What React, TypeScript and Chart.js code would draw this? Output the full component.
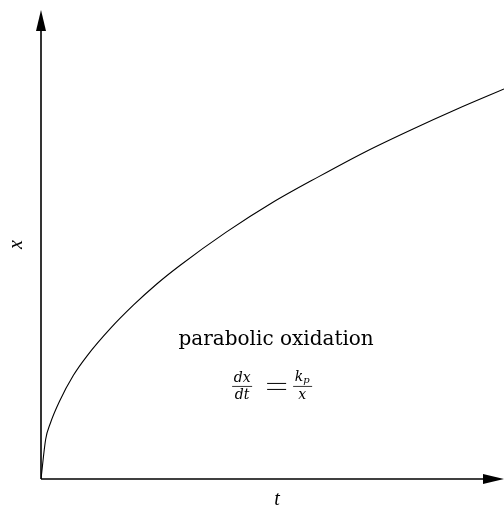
import React, { useEffect, useRef } from "react";
import { Chart, registerables } from "chart.js";

Chart.register(...registerables);

// Oxide thickness x against time t for parabolic growth
const timeValues = [0, 0.1, 0.2, 0.4, 0.7, 1, 1.5, 2, 2.5, 3, 4, 5, 6, 7, 8, 9, 10];
const thicknessValues = [0, 0.32, 0.45, 0.63, 0.84, 1, 1.22, 1.41, 1.58, 1.73, 2, 2.24, 2.45, 2.65, 2.83, 3, 3.16];

const xAxisTitle = "t";
const yAxisTitle = "x";
const regimeLabel = "parabolic oxidation";

const SERIF = '"Liberation Serif", "DejaVu Serif", serif';
const WIDE_SERIF = '"DejaVu Serif", "Liberation Serif", serif';

function drawArrow(ctx: CanvasRenderingContext2D, fx: number, fy: number, tx: number, ty: number) {
  const len = 21;
  const half = 5;
  const ang = Math.atan2(ty - fy, tx - fx);
  const bx = tx - len * Math.cos(ang);
  const by = ty - len * Math.sin(ang);
  ctx.beginPath();
  ctx.moveTo(fx, fy);
  ctx.lineTo(bx, by);
  ctx.stroke();
  ctx.beginPath();
  ctx.moveTo(tx, ty);
  ctx.lineTo(bx + half * Math.sin(ang), by - half * Math.cos(ang));
  ctx.lineTo(bx - half * Math.sin(ang), by + half * Math.cos(ang));
  ctx.closePath();
  ctx.fill();
}

const axesPlugin = {
  id: "arrowAxes",
  afterDraw(chart: any) {
    const ctx: CanvasRenderingContext2D = chart.ctx;
    const area = chart.chartArea;
    const xs = chart.scales.x;
    const ys = chart.scales.y;
    const x0 = xs.getPixelForValue(0);
    const y0 = ys.getPixelForValue(0);
    ctx.save();
    ctx.strokeStyle = "#000";
    ctx.fillStyle = "#000";
    ctx.lineWidth = 1.6;
    drawArrow(ctx, x0, y0, x0, area.top);
    drawArrow(ctx, x0, y0, area.right, y0);

    // axis titles
    ctx.font = `italic 20px ${SERIF}`;
    ctx.textAlign = "center";
    ctx.textBaseline = "middle";
    ctx.fillText(xAxisTitle, x0 + 236, y0 + 21);
    ctx.save();
    ctx.translate(x0 - 24, (area.top + y0) / 2);
    ctx.rotate(-Math.PI / 2);
    ctx.fillText(yAxisTitle, 0, 0);
    ctx.restore();

    // regime label
    const cx = xs.getPixelForValue(5.1);
    ctx.font = `20px ${WIDE_SERIF}`;
    ctx.textBaseline = "alphabetic";
    ctx.fillText(regimeLabel, cx - 1, 345);

    // rate law dx/dt = k_p / x
    const lineY = ys.getPixelForValue(0.75);
    const f1 = cx - 35;
    const f2 = cx + 25;
    ctx.font = `italic 14px ${WIDE_SERIF}`;
    ctx.fillText("dx", f1, lineY - 4);
    ctx.fillText("dt", f1, lineY + 13);
    ctx.lineWidth = 0.8;
    ctx.beginPath();
    ctx.moveTo(f1 - 10, lineY);
    ctx.lineTo(f1 + 10, lineY);
    ctx.stroke();
    // equals sign
    ctx.lineWidth = 1;
    ctx.beginPath();
    ctx.moveTo(cx - 10, lineY - 3);
    ctx.lineTo(cx + 9, lineY - 3);
    ctx.moveTo(cx - 10, lineY + 3);
    ctx.lineTo(cx + 9, lineY + 3);
    ctx.stroke();
    ctx.font = `italic 14px ${WIDE_SERIF}`;
    ctx.textAlign = "right";
    ctx.fillText("k", f2 + 1, lineY - 5);
    ctx.font = `italic 10px ${WIDE_SERIF}`;
    ctx.textAlign = "left";
    ctx.fillText("p", f2 + 1, lineY - 3);
    ctx.font = `italic 14px ${WIDE_SERIF}`;
    ctx.textAlign = "center";
    ctx.fillText("x", f2, lineY + 13);
    ctx.lineWidth = 0.8;
    ctx.beginPath();
    ctx.moveTo(f2 - 9, lineY);
    ctx.lineTo(f2 + 10, lineY);
    ctx.stroke();
    ctx.restore();
  },
};

export default function App() {
  const canvasRef = useRef<HTMLCanvasElement | null>(null);

  useEffect(() => {
    const canvas = canvasRef.current;
    if (!canvas) return;
    const chart = new Chart(canvas, {
      type: "line",
      data: {
        datasets: [
          {
            data: timeValues.map((t, i) => ({ x: t, y: thicknessValues[i] })),
            borderColor: "#000",
            borderWidth: 1.1,
            pointRadius: 0,
            cubicInterpolationMode: "monotone",
            fill: false,
          },
        ],
      },
      options: {
        animation: false,
        responsive: false,
        events: [],
        layout: { padding: { left: 41, right: 0, top: 10, bottom: 31 } },
        plugins: { legend: { display: false }, tooltip: { enabled: false } },
        scales: {
          x: { type: "linear", min: 0, max: 10, display: false },
          y: { type: "linear", min: 0, max: 3.8, display: false },
        },
      },
      plugins: [axesPlugin],
    });
    return () => chart.destroy();
  }, []);

  return (
    <div style={{ position: "fixed", left: 0, top: 0, width: 504, height: 510, background: "#fff" }}>
      <canvas ref={canvasRef} width={504} height={510} />
    </div>
  );
}
